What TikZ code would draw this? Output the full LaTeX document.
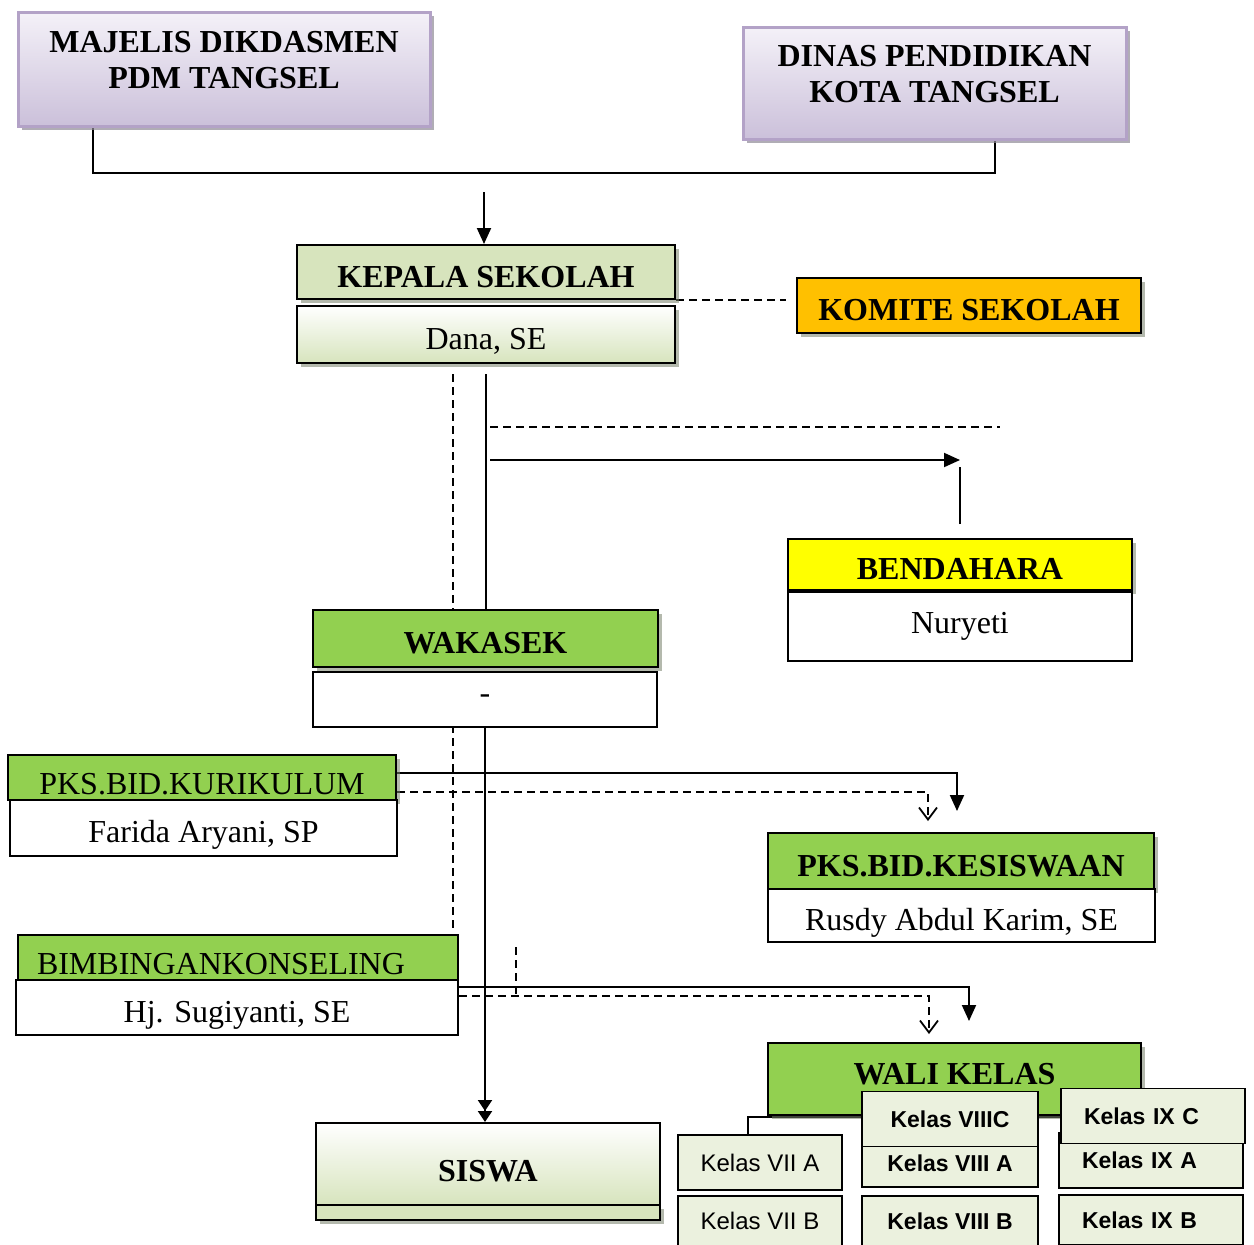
\documentclass[tikz,border=0pt]{standalone}
\usepackage{fontspec}
\setmainfont{Liberation Serif}
\newfontfamily\kelasfont{Liberation Sans}
\usetikzlibrary{arrows.meta,shadows,backgrounds,calc}
\definecolor{lavline}{HTML}{B3A2C7}
\definecolor{lavtop}{HTML}{F4F1F8}
\definecolor{lavbot}{HTML}{CBC0DA}
\definecolor{olivebg}{HTML}{D7E4BD}
\definecolor{komite}{HTML}{FFC000}
\definecolor{kuning}{HTML}{FFFF00}
\definecolor{hijau}{HTML}{92D050}
\definecolor{kelasbg}{HTML}{EBF1DE}
\definecolor{bayang}{HTML}{76806A}
\tikzset{
  wh/.style 2 args={minimum width={#1*0.5pt},minimum height={#2*0.5pt}},
  box/.style={draw=black,line width=1pt,inner sep=0pt},
  judul/.style={box,font=\bfseries\fontsize{16}{18}\selectfont,text height=15pt,text depth=0pt},
  subjudul/.style={box,fill=hijau,font=\fontsize{16}{18}\selectfont,text height=17pt},
  nama/.style={box,fill=white,font=\fontsize{16}{18}\selectfont,text height=14.5pt,text depth=0pt},
  namabiasa/.style={box,fill=white,font=\fontsize{16}{18}\selectfont},
  bayangan/.style={drop shadow={shadow xshift=2pt,shadow yshift=-2pt,fill=bayang,opacity=.55}},
  lavbox/.style={box,font=\bfseries\fontsize{16}{18}\selectfont,draw=lavline,line width=1.5pt,top color=lavtop,bottom color=lavbot,align=center,text depth=9pt,
    drop shadow={shadow xshift=2pt,shadow yshift=-2pt,fill=gray!70!lavline,opacity=.7}},
  kelas/.style={draw=black,line width=0.8pt,fill=kelasbg,inner sep=0pt,font=\kelasfont\fontsize{12}{14}\selectfont},
  kelastebal/.style={kelas,font=\kelasfont\bfseries\fontsize{11.5}{13}\selectfont},
  kelaskiri/.style={text width={138*0.5pt},inner xsep={23*0.5pt},align=left},
  garis/.style={line width=1pt},
  putus/.style={line width=0.8pt,dash pattern=on 4pt off 2.5pt},
  panah/.style={garis,-{Triangle[length=8pt,width=7pt]}},
  panahbuka/.style={putus,-{Straight Barb[length=6pt,width=9pt,line width=0.9pt]}},
}

\begin{document}
\begin{tikzpicture}[x=0.5pt,y=-0.5pt]
	\useasboundingbox (0,0) rectangle (1254,1244);
	\node[lavbox,wh={412}{114}] (majelis) at (224,69) {MAJELIS DIKDASMEN\\PDM TANGSEL};
	\node[lavbox,wh={383}{112}] (dinas) at (934.5,83) {DINAS PENDIDIKAN\\KOTA TANGSEL};
	\node[judul,fill=olivebg,bayangan,wh={378}{54}] (kepala) at (486,272) {KEPALA SEKOLAH};
	\node[nama,top color=white,bottom color=olivebg,bayangan,wh={378}{57}] (dana) at (486,334.5) {Dana, SE};
	\node[judul,fill=komite,bayangan,wh={344}{55}] (komite) at (969,305.5) {KOMITE SEKOLAH};
	\node[judul,fill=kuning,bayangan,wh={344}{51}] (bendahara) at (960,564.5) {BENDAHARA};
	\node[namabiasa,wh={344}{69}] (nuryeti) at (960,626.5) {Nuryeti};
	\node[judul,fill=hijau,bayangan,wh={345}{57}] (wakasek) at (485.5,638.5) {WAKASEK};
	\node[namabiasa,wh={344}{55}] (wakanama) at (485,699.5) {-};
	\node[subjudul,bayangan,wh={388}{45}] (kurikulum) at (202,777.5) {PKS.BID.KURIKULUM};
	\node[nama,wh={387}{56}] (farida) at (203.5,828) {Farida Aryani, SP};
	\node[judul,fill=hijau,bayangan,wh={386}{56}] (kesiswaan) at (961,861) {PKS.BID.KESISWAAN};
	\node[nama,wh={387}{53}] (rusdy) at (961.5,915.5) {Rusdy Abdul Karim, SE};
	\node[subjudul,text width={402*0.5pt},inner xsep={19*0.5pt},align=left,wh={440}{45}] (bk) at (238,957.5) {BIMBINGANKONSELING};
	\node[nama,wh={442}{55}] (sugiyanti) at (237,1007.5) {Hj. Sugiyanti, SE};
	\node[judul,fill=hijau,bayangan,text height=11pt,text depth=6pt,wh={373}{72}] (walikelas) at (954.5,1079) {WALI KELAS};
	\node[box,fill=olivebg,bayangan,wh={344}{15}] (siswabawah) at (488,1212.5) {};
	\node[judul,top color=white,bottom color=olivebg,text height=17pt,wh={344}{82}] (siswa) at (488,1164) {SISWA};
	\foreach \n/\x/\y/\h/\t in {k7a/760/1162.5/55/Kelas VII A,k7b/760/1221/50/Kelas VII B}
		\node[kelas,wh={164}{\h}] (\n) at (\x,\y) {\t};
	\foreach \n/\y/\h/\t in {k8a/1163/48/Kelas VIII A,k8c/1119/55/Kelas VIIIC,k8b/1221/50/Kelas VIII B}
		\node[kelastebal,wh={176}{\h}] (\n) at (950,\y) {\t};
	\foreach \n/\x/\y/\h/\t in {k9a/1151/1160.5/55/Kelas IX A,k9c/1153/1116/55/Kelas IX C,k9b/1151/1220/50/Kelas IX B}
		\node[kelastebal,kelaskiri,wh={184}{\h}] (\n) at (\x,\y) {\t};
	\begin{scope}[on background layer]
		\coordinate (b1) at (93,173);
		\coordinate (b2) at (995,173);
		\draw[garis] (majelis.south -| b1) -- (b1) -- (b2) -- (dinas.south -| b2);
		\coordinate (k0) at (484,192);
		\draw[panah] (k0) -- (kepala.north -| k0);
		\draw[putus] (kepala.south east) -- ++(110,0);
		\coordinate (dtop) at ([yshift=-5pt]dana.south);
		\draw[garis] (dtop) -- (wakasek.north -| dtop);
		\coordinate (dv) at (453,930);
		\draw[putus] (dtop -| dv) -- (dv);
		\draw[putus] (490,427) -- (1000,427);
		\draw[panah] (490,460) -- (bendahara.north |- 0,460);
		\draw[garis] ([yshift=7pt]bendahara.north) -- ++(0,-57);
		\draw[garis,-{Triangle[length=5.5pt,width=7pt]Triangle[length=5.5pt,width=7pt]}] (wakanama.south) -- (siswa.north -| wakanama.south);
		\coordinate (ks1) at (957,811);
		\coordinate (ks2) at (928,821);
		\draw[panah] (kurikulum.east |- 0,773) -| (ks1);
		\draw[panahbuka] (kurikulum.east |- 0,792) -| (ks2);
		\coordinate (wk1) at (969,1021);
		\coordinate (wk2) at (929,1034);
		\draw[panah] (sugiyanti.east |- 0,987) -| (wk1);
		\draw[panahbuka] (sugiyanti.east |- 0,996) -| (wk2);
		\draw[putus] (516,947) -- (516,996);
		\draw[garis] ([xshift=-6pt]k7a.north) |- (k9c.west |- 0,1117);
	\end{scope}
\end{tikzpicture}
\end{document}
